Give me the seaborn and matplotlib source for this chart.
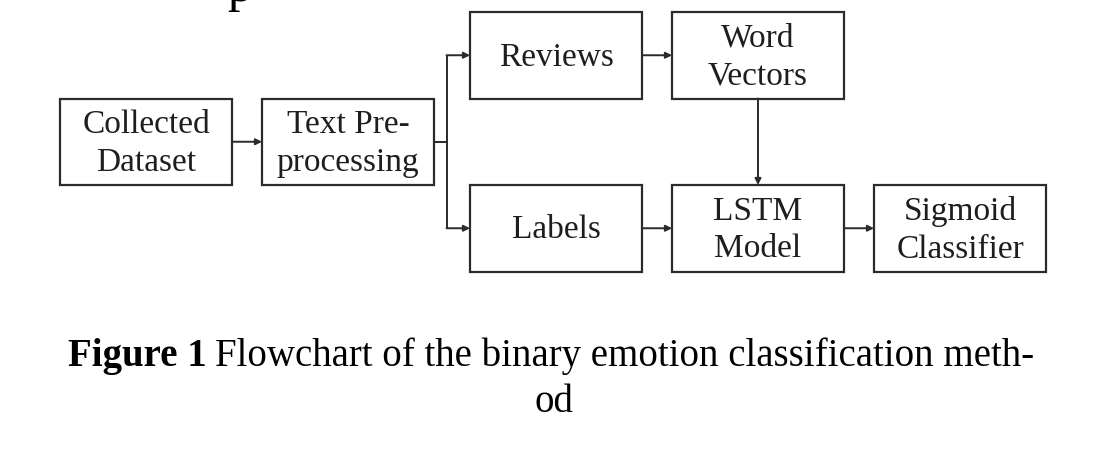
import matplotlib
matplotlib.use("Agg")
import matplotlib.pyplot as plt
import seaborn as sns
from matplotlib.patches import Rectangle

# Flowchart content
box_labels = ["Collected\nDataset", "Text Pre-\nprocessing", "Reviews", "Word\nVectors",
              "Labels", "LSTM\nModel", "Sigmoid\nClassifier"]
box_cols = [0, 1, 2, 3, 2, 3, 4]
box_rows = [1, 1, 0, 0, 2, 2, 2]
edges = [(0, 1), (1, 2), (1, 4), (2, 3), (3, 5), (4, 5), (5, 6)]
caption_bold = "Figure 1"
caption_rest = "Flowchart of the binary emotion classification meth-"
caption_line2 = "od"

# layout (pixels)
col_left = [60, 262, 470, 672, 874]
row_top = [13, 99.5, 186]
box_w, box_h = 172, 86.5
branch_x = 446.5

sns.set_theme(style="white")
plt.rcParams['font.family'] = ['Liberation Serif', 'DejaVu Serif']

fig = plt.figure(figsize=(11.14, 4.52), dpi=100)
ax = fig.add_axes([0, 0, 1, 1])
ax.set_xlim(0, 1114)
ax.set_ylim(452, 0)
ax.axis('off')

line_col = '#2b2b2b'
text_col = '#1e1e1e'


def box_geom(i):
    x = col_left[box_cols[i]]
    y = row_top[box_rows[i]]
    return x, y, x + box_w, y + box_h


for i, lab in enumerate(box_labels):
    x0, y0, x1, y1 = box_geom(i)
    ax.add_patch(Rectangle((x0, y0), box_w, box_h, fill=False, ec=line_col, lw=1.6))
    ax.text((x0 + x1) / 2, (y0 + y1) / 2 + 1, lab, ha='center', va='center',
            fontsize=24, color=text_col, linespacing=1.3)

arrow_kw = dict(arrowstyle='-|>', color=line_col, lw=1.4, mutation_scale=9,
                shrinkA=0, shrinkB=0)

for s, d in edges:
    sx0, sy0, sx1, sy1 = box_geom(s)
    dx0, dy0, dx1, dy1 = box_geom(d)
    if box_rows[s] == box_rows[d]:
        yc = (sy0 + sy1) / 2
        ax.annotate('', xy=(dx0, yc), xytext=(sx1, yc), arrowprops=arrow_kw)
    elif box_cols[s] == box_cols[d]:
        xc = (sx0 + sx1) / 2
        ax.annotate('', xy=(xc, dy0), xytext=(xc, sy1), arrowprops=arrow_kw)
    else:
        ys = (sy0 + sy1) / 2
        yd = (dy0 + dy1) / 2
        ax.plot([sx1, branch_x, branch_x], [ys, ys, yd], color=line_col, lw=1.4,
                solid_capstyle='butt', solid_joinstyle='miter')
        ax.annotate('', xy=(dx0, yd), xytext=(branch_x, yd), arrowprops=arrow_kw)

# clipped glyph of the preceding text line at top edge
ax.text(240, 1, "p", ha='center', va='baseline', fontsize=36, color='black')

# caption
cap_size = 28
t1 = ax.text(68, 366, caption_bold, ha='left', va='baseline', fontsize=cap_size,
             fontweight='bold', color='black')
fig.canvas.draw()
r = fig.canvas.get_renderer()
bb = t1.get_window_extent(r)
ax.text(bb.x1 + 8, 366, caption_rest, ha='left', va='baseline', fontsize=cap_size,
        color='black')
ax.text(554, 412, caption_line2, ha='center', va='baseline', fontsize=cap_size, color='black')

fig.savefig("out.png", dpi=100)
